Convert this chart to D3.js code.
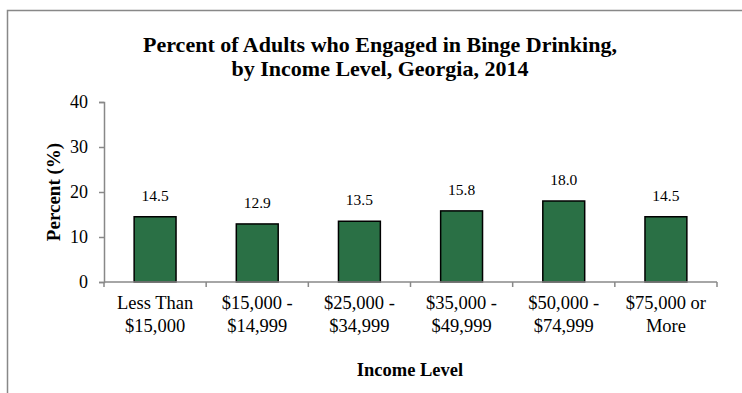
<!DOCTYPE html>
<html>
<head>
<meta charset="utf-8">
<script src="https://cdn.jsdelivr.net/npm/d3@7"></script>
<style>
  html, body { margin: 0; padding: 0; background: #fff; }
  svg { display: block; font-family: "Liberation Serif", "Times New Roman", serif; }
</style>
</head>
<body>
<svg id="chart" width="742" height="393"></svg>
<script>
// Binge drinking prevalence by household income, Georgia 2014
const categories = [
  ["Less Than", "$15,000"],
  ["$15,000 -", "$14,999"],
  ["$25,000 -", "$34,999"],
  ["$35,000 -", "$49,999"],
  ["$50,000 -", "$74,999"],
  ["$75,000 or", "More"]
];
const values = [14.5, 12.9, 13.5, 15.8, 18.0, 14.5];
const yTicks = [0, 10, 20, 30, 40];
const titleLines = [
  "Percent of Adults who Engaged in Binge Drinking,",
  "by Income Level, Georgia, 2014"
];

const FONT = "Liberation Serif, Times New Roman, serif";
const svg = d3.select("#chart");
const margin = { left: 104, right: 25, top: 102, bottom: 111 };
const W = 742, H = 393;

// outer frame (runs past the right and bottom edges of the view)
svg.append("rect")
  .attr("x", 7.5).attr("y", 10.5)
  .attr("width", 800).attr("height", 500)
  .attr("fill", "none").attr("stroke", "#888").attr("stroke-width", 1.5);

const x = d3.scaleBand()
  .domain(d3.range(categories.length))
  .range([margin.left, W - margin.right])
  .paddingInner(0.59).paddingOuter(0.295);

const xOuter = d3.scaleBand()
  .domain(d3.range(categories.length))
  .range([margin.left, W - margin.right]);

const y = d3.scaleLinear().domain([0, 40]).range([H - margin.bottom, margin.top]);

// title
svg.append("g").selectAll("text").data(titleLines).join("text")
  .attr("x", 380).attr("y", (d, i) => 52 + i * 24)
  .attr("text-anchor", "middle").attr("font-family", FONT)
  .attr("font-weight", "bold").attr("font-size", 22)
  .text(d => d);

// y axis
const yAxis = svg.append("g")
  .attr("transform", `translate(${margin.left},0)`)
  .call(d3.axisLeft(y).tickValues(yTicks).tickSize(5).tickPadding(11));
yAxis.select(".domain").attr("stroke", "#888").attr("stroke-width", 1.5);
yAxis.selectAll(".tick line").attr("stroke", "#888").attr("stroke-width", 1.5);
yAxis.selectAll(".tick text")
  .attr("font-family", FONT).attr("font-size", 18).attr("fill", "#000");

// bars
svg.append("g").selectAll("rect").data(values).join("rect")
  .attr("x", (d, i) => x(i))
  .attr("width", x.bandwidth())
  .attr("y", d => y(d))
  .attr("height", d => y(0) - y(d))
  .attr("fill", "#2a7045")
  .attr("stroke", "#000").attr("stroke-width", 1.5);

// value labels
svg.append("g").selectAll("text").data(values).join("text")
  .attr("x", (d, i) => x(i) + x.bandwidth() / 2)
  .attr("y", d => y(d) - 16)
  .attr("text-anchor", "middle").attr("font-family", FONT).attr("font-size", 15.5)
  .text(d => d.toFixed(1));

// x axis with ticks at category boundaries
const xg = svg.append("g").attr("transform", `translate(0,${y(0)})`);
xg.append("line")
  .attr("x1", margin.left).attr("x2", W - margin.right)
  .attr("stroke", "#888").attr("stroke-width", 1.5);
xg.selectAll("line.tick").data(d3.range(categories.length + 1)).join("line")
  .attr("class", "tick")
  .attr("x1", i => i < categories.length ? xOuter(i) : W - margin.right)
  .attr("x2", i => i < categories.length ? xOuter(i) : W - margin.right)
  .attr("y1", 0).attr("y2", 5)
  .attr("stroke", "#888").attr("stroke-width", 1.5);

const labels = svg.append("g").selectAll("text").data(categories).join("text")
  .attr("text-anchor", "middle").attr("font-family", FONT).attr("font-size", 18.5);
labels.each(function(d, i) {
  const t = d3.select(this);
  d.forEach((line, j) => {
    t.append("tspan")
      .attr("x", xOuter(i) + xOuter.bandwidth() / 2)
      .attr("y", 309 + j * 23)
      .text(line);
  });
});

// axis titles
svg.append("text")
  .attr("x", 410).attr("y", 376)
  .attr("text-anchor", "middle").attr("font-family", FONT)
  .attr("font-weight", "bold").attr("font-size", 18.5)
  .text("Income Level");

svg.append("text")
  .attr("transform", `translate(59.5,${(y(0) + y(40)) / 2}) rotate(-90)`)
  .attr("text-anchor", "middle").attr("font-family", FONT)
  .attr("font-weight", "bold").attr("font-size", 19)
  .text("Percent (%)");
</script>
</body>
</html>
